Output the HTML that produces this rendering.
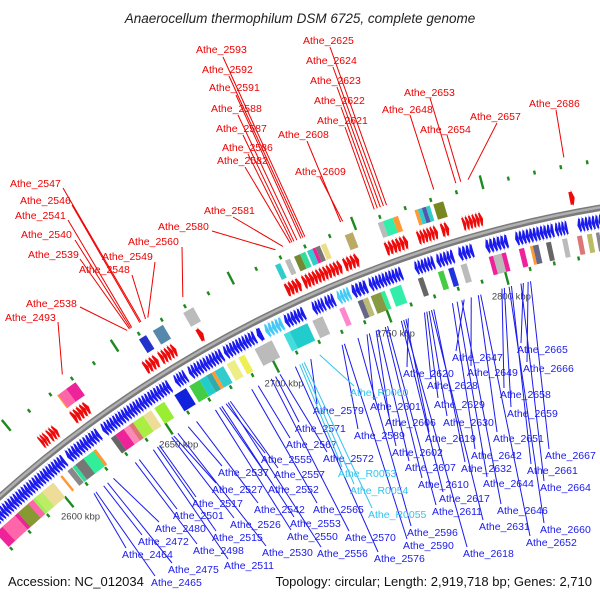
<!DOCTYPE html>
<html><head><meta charset="utf-8">
<style>
html,body{margin:0;padding:0;background:#fff;}
svg{display:block;font-family:"Liberation Sans",sans-serif;}
</style></head>
<body>
<svg id="chart" width="600" height="600" viewBox="0 0 600 600" xmlns="http://www.w3.org/2000/svg">
<rect width="600" height="600" fill="#fff"/>
<text x="300" y="23" text-anchor="middle" font-size="13.5" font-style="italic" fill="#222">Anaerocellum thermophilum DSM 6725, complete genome</text>
<g id="ticks"></g>
<g id="backbone"></g>
<g id="genes"></g>
<g id="labels"></g>
<text x="8" y="586" font-size="13" fill="#111">Accession: NC_012034</text>
<text x="592" y="586" text-anchor="end" font-size="13" fill="#111">Topology: circular; Length: 2,919,718 bp; Genes: 2,710</text>
</svg>
<script>
// ---- data (kbp) ----
const fwdGenes=[[2606,2609.5],[2610,2614],[2621.5,2629],[2655,2661],[2662,2669],[2679,2681],[2716.8,2723],[2724,2740],[2741,2747],[2758,2767],[2771,2779],[2780.5,2783.5],[2789,2797],[2831,2833]];
const revGenes=[[2555,2577],[2577,2609],[2610.5,2626],[2627.8,2659.5],[2662,2667],[2668.4,2683.4],[2684.3,2698],[2698.9,2701],[2711,2719.4],[2723,2728],[2728.4,2732.3],[2739.8,2746],[2747,2760.7],[2766,2774],[2775,2782],[2784,2790],[2795,2804],[2807,2822.5],[2823,2828],[2832,2850]];
const revRna=[[2702.5,2710],[2733.6,2738.9]];
const outerCog=[[2621.8,2622.6,"#ff9933"],[2622.3,2626,"#ff66aa"],[2626,2630.3,"#ee2299"],[2658.9,2662,"#2233cc"],[2665,2669.4,"#5588aa"],[2678.2,2682.5,"#bbbbbb"],[2716.9,2719,"#33cccc"],[2721,2723,"#bbbbbb"],[2724.7,2727.2,"#778833"],[2727.2,2729.3,"#33dd99"],[2730,2732.2,"#33cccc"],[2732.2,2733.5,"#ee2299"],[2733.5,2735.2,"#777777"],[2735.6,2737.6,"#eedd88"],[2745.3,2748.5,"#bbaa66"],[2758.5,2760.5,"#bbbbbb"],[2760.5,2764.4,"#33eeaa"],[2764.4,2766.5,"#ff9933"],[2773,2774.3,"#ff9933"],[2774.3,2775.9,"#33cccc"],[2775.9,2777.5,"#5555aa"],[2777.5,2779,"#33cccc"],[2780.4,2784.3,"#778822"]];
const innerCog=[[2569.7,2574.8,"#ee2299"],[2573.3,2580,"#ff66aa"],[2580,2585.3,"#ee2299"],[2581.5,2588,"#889933"],[2587,2589.5,"#ff66aa"],[2589.5,2592,"#99ee55"],[2590.6,2595.8,"#bbee66"],[2594.2,2600,"#eedd99"],[2603.6,2604.6,"#ff9933"],[2607.2,2609.5,"#888888"],[2609.7,2611.2,"#33dd99"],[2611.2,2616.2,"#777777"],[2615.2,2621.2,"#33ee99"],[2620.2,2621.4,"#ff9933"],[2628.7,2631,"#666666"],[2631,2635,"#ee2299"],[2635,2637.5,"#ff88bb"],[2637.5,2639.5,"#dd7777"],[2639.4,2644.3,"#aaee44"],[2644.3,2648.1,"#eedd99"],[2649.6,2654.2,"#99ee33"],[2659,2664.4,"#1122dd"],[2665.9,2670.6,"#44cc44"],[2670.6,2673.8,"#22cccc"],[2673.8,2676.1,"#33aaaa"],[2676.1,2677.5,"#ff9933"],[2677.5,2681.5,"#33cccc"],[2683,2686.6,"#eeee88"],[2688.3,2691,"#eeee55"],[2695.6,2703.2,"#bbbbbb"],[2708.5,2711.1,"#44dddd"],[2711.1,2718.8,"#22cccc"],[2721,2725.4,"#bbbbbb"],[2732.6,2734.8,"#ff88cc"],[2740.5,2742.6,"#666688"],[2742.6,2744.8,"#bbbb77"],[2746,2750.3,"#889944"],[2750.3,2752,"#33ee99"],[2754,2758.8,"#33eeaa"],[2765.9,2768,"#666666"],[2774.2,2776.5,"#44cc44"],[2778.5,2780.7,"#2233dd"],[2783.6,2786.1,"#bbbbbb"],[2795.2,2797,"#ee2299"],[2797,2800.4,"#bbbbbb"],[2800.4,2802.2,"#ee2299"],[2807.5,2809.6,"#ee2299"],[2812,2813.2,"#ff9933"],[2813.2,2815.4,"#666688"],[2818.5,2820.5,"#666666"],[2825,2827,"#bbbbbb"],[2831,2833,"#dd7777"],[2835,2837,"#bbbb66"],[2838.6,2840,"#888888"]];
const tickMajor=[2600,2650,2700,2750,2800];
const tickLabels=["2600 kbp","2650 kbp","2700 kbp","2750 kbp","2800 kbp"];
const tickMinorStart=2560, tickMinorEnd=2850, tickMinorStep=10;

const redNames=["Athe_2593","Athe_2592","Athe_2591","Athe_2588","Athe_2587","Athe_2586","Athe_2582","Athe_2547","Athe_2546","Athe_2541","Athe_2540","Athe_2539","Athe_2549","Athe_2548","Athe_2538","Athe_2493","Athe_2560","Athe_2580","Athe_2581","Athe_2608","Athe_2609","Athe_2625","Athe_2624","Athe_2623","Athe_2622","Athe_2621","Athe_2648","Athe_2653","Athe_2654","Athe_2657","Athe_2686"];
const redKbp=[2731.4,2730.6,2729.8,2728.2,2727,2726.2,2725.5,2663,2662.5,2659,2658.5,2658,2666,2665,2657,2628,2681,2719.5,2722.5,2745.7,2746.5,2763.8,2762.6,2761.4,2760.2,2759,2782.2,2790.7,2792.6,2795.4,2831.8];
const redTextX=[196,202,209,211,216,222,217,10,20,15,21,28,102,79,26,5,128,158,204,278,295,303,306,310,314,317,382,404,420,470,529];
const redTextY=[49,69,87,108,128,147,160,183,200,215,234,254,256,269,303,317,241,226,210,134,171,40,60,80,100,120,109,92,129,116,103];
const redLineX=[223,229,236,238,243,248,245,63,72,68,75,80,155,132,80,58,182,212,233,307,320,330,333,337,341,345,410,430,447,497,556];
const redLineY=[57,76,95,115,135,154,167,188,205,220,240,259,262,275,307,322,247,231,217,141,177,47,67,87,107,127,115,98,135,123,110];

const blueNames=["Athe_2464","Athe_2465","Athe_2472","Athe_2475","Athe_2480","Athe_2498","Athe_2501","Athe_2511","Athe_2515","Athe_2517","Athe_2526","Athe_2527","Athe_2530","Athe_2537","Athe_2542","Athe_2550","Athe_2552","Athe_2553","Athe_2555","Athe_2556","Athe_2557","Athe_2565","Athe_2567","Athe_2570","Athe_2571","Athe_2572","Athe_2576","Athe_2579","Athe_2589","Athe_2590","Athe_2596","Athe_2601","Athe_2602","Athe_2606","Athe_2607","Athe_2610","Athe_2611","Athe_2617","Athe_2618","Athe_2619","Athe_2620","Athe_2628","Athe_2629","Athe_2630","Athe_2631","Athe_2632","Athe_2642","Athe_2644","Athe_2646","Athe_2647","Athe_2649","Athe_2651","Athe_2652","Athe_2658","Athe_2659","Athe_2660","Athe_2661","Athe_2664","Athe_2665","Athe_2666","Athe_2667","Athe_R0053","Athe_R0054","Athe_R0055","Athe_R0060"];
const blueKbp=[2610,2611,2615,2617,2620,2631,2633,2640,2642,2643,2649,2650,2652,2657,2661,2670,2672,2673,2675,2676,2677,2687,2690,2696,2698,2700,2707,2714,2728,2729,2735,2739,2740,2743,2744,2747,2748,2754,2755,2756,2757,2764,2765,2766,2767,2768,2776,2778,2780,2781,2784,2787,2788,2797,2798,2800,2801,2805,2806,2808,2809,2709,2710,2711,2718];
const blueTextX=[122,151,138,168,155,193,173,224,212,192,230,212,262,218,254,287,268,290,261,317,274,313,286,345,295,323,374,313,354,403,407,370,392,385,405,418,432,439,463,425,403,427,434,443,479,461,471,483,497,452,467,493,526,500,507,540,527,540,517,523,545,338,350,368,350];
const blueTextY=[554,582,541,569,528,550,515,565,537,503,524,489,552,472,509,536,489,523,459,553,474,509,444,537,428,458,558,410,435,545,532,406,452,422,467,484,511,498,553,438,373,385,404,422,526,468,455,483,510,357,372,438,542,394,413,529,470,487,349,368,455,473,490,514,392];

// ---- scales ----
const CX=800, CY=1391, GLEN=2919.7, DEG=0.1233;
function ang(k){return (k-GLEN)*DEG*Math.PI/180;}
function pt(k,r){const a=ang(k);return [CX+r*Math.sin(a), CY-r*Math.cos(a)];}
const NS="http://www.w3.org/2000/svg";
function mk(tag,attrs,parent){const e=document.createElementNS(NS,tag);for(const k in attrs)e.setAttribute(k,attrs[k]);parent.appendChild(e);return e;}
function P(a){return a[0].toFixed(1)+","+a[1].toFixed(1);}

// ---- ticks ----
const gT=document.getElementById('ticks');
for(let k=tickMinorStart;k<=tickMinorEnd;k+=tickMinorStep){
  const major=tickMajor.indexOf(k)>=0;
  const a1=pt(k,major?1144:1152), a2=pt(k,major?1158:1156);
  const t=mk('line',{x1:a1[0],y1:a1[1],x2:a2[0],y2:a2[1],stroke:"#1f8a1f","stroke-width":2.4},gT);
  
  
  const b1=pt(k,major?1243:1245), b2=pt(k,major?1257:1249);
  const t2=mk('line',{x1:b1[0],y1:b1[1],x2:b2[0],y2:b2[1],stroke:"#1f8a1f","stroke-width":2.4},gT);
  
  
}
tickMajor.forEach((k,i)=>{
  const p=pt(k,1133);
  const tx=mk('text',{x:p[0],y:p[1]+4,"text-anchor":"middle","font-size":9.5,fill:"#444"},gT);
  tx.textContent=tickLabels[i];
  
  
});

// ---- backbone ----
const gB=document.getElementById('backbone');
function arcPath(r,k1,k2){const a=pt(k1,r),b=pt(k2,r);return "M"+P(a)+" A"+r+","+r+" 0 0,1 "+P(b);}
const bb1=mk('path',{d:arcPath(1200,2540,2880),fill:"none",stroke:"#7a7a7a","stroke-width":6.5},gB);


const bb2=mk('path',{d:arcPath(1200.5,2540,2880),fill:"none",stroke:"#b0b0b0","stroke-width":2.5},gB);



// ---- genes ----
const gG=document.getElementById('genes');
function teeth(s,e){const n=Math.max(1,Math.round((e-s)/1.4));const w=(e-s)/n;const out=[];for(let i=0;i<n;i++)out.push([s+i*w,s+(i+1)*w]);return out;}
function arrow(s,e,r1,r2,dir,color,name){
  const h=Math.min(1.0,(e-s)*0.7), rm=(r1+r2)/2;
  let pts;
  if(dir>0) pts=[pt(s,r1+2),pt(e-h,r1+2),pt(e-h,r1),pt(e,rm),pt(e-h,r2),pt(e-h,r2-2),pt(s,r2-2)];
  else pts=[pt(e,r1+2),pt(s+h,r1+2),pt(s+h,r1),pt(s,rm),pt(s+h,r2),pt(s+h,r2-2),pt(e,r2-2)];
  const el=mk('polygon',{points:pts.map(P).join(" "),fill:color},gG);
  
  
}
fwdGenes.forEach(g=>teeth(g[0],g[1]).forEach(t=>arrow(t[0],t[1],1206,1223,1,"#ee0a0a",'forward-gene')));
revGenes.forEach(g=>teeth(g[0],g[1]).forEach(t=>arrow(t[0],t[1],1178,1195,-1,"#1a1aee",'reverse-gene')));
revRna.forEach(g=>teeth(g[0],g[1]).forEach(t=>arrow(t[0],t[1],1178,1195,-1,"#44c8f5",'reverse-rna-gene')));
function box(s,e,r1,r2,color,name){
  const pts=[pt(s,r1),pt(e,r1),pt(e,r2),pt(s,r2)];
  const el=mk('polygon',{points:pts.map(P).join(" "),fill:color},gG);
  
  
}
outerCog.forEach(c=>box(c[0],c[1],1226,1242,c[2],'forward-cog-box'));
innerCog.forEach(c=>box(c[0],c[1],1157,1176,c[2],'reverse-cog-box'));

// ---- labels ----
const gL=document.getElementById('labels');
redNames.forEach((n,i)=>{
  const e=pt(redKbp[i],1256);
  const ln=mk('line',{x1:redLineX[i],y1:redLineY[i],x2:e[0],y2:e[1],stroke:"#ee0000","stroke-width":1},gL);
  
  
  const t=mk('text',{x:redTextX[i],y:redTextY[i]+4,"font-size":10.5,fill:"#ee0000"},gL);
  t.textContent=n;
  
  
});
blueNames.forEach((n,i)=>{
  const rna=n.indexOf("R0")>=0;
  const col=rna?"#33c4ee":"#1a1aee";
  const s=pt(blueKbp[i],1142);
  const ln=mk('line',{x1:s[0],y1:s[1],x2:blueTextX[i]+4,y2:blueTextY[i]-6,stroke:col,"stroke-width":1},gL);
  
  
  const t=mk('text',{x:blueTextX[i],y:blueTextY[i]+4,"font-size":10.5,fill:col},gL);
  t.textContent=n;
  
  
});
</script>
</body></html>
